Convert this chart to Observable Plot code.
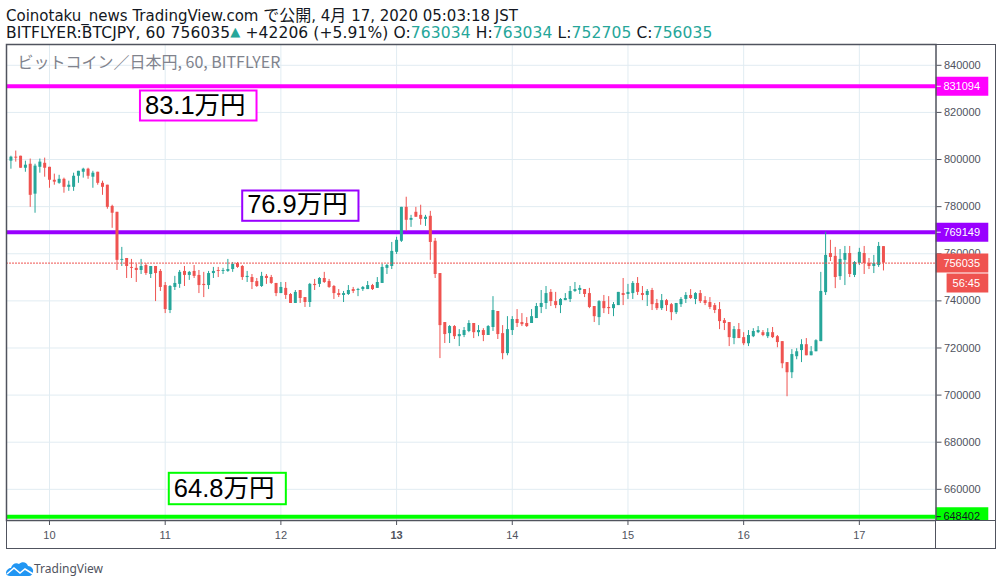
<!DOCTYPE html>
<html lang="ja">
<head>
<meta charset="utf-8">
<script src="https://cdn.jsdelivr.net/npm/d3@7"></script>
<script src="https://cdn.jsdelivr.net/npm/@observablehq/plot@0.6"></script>
<style>
html,body{margin:0;padding:0;background:#fff;width:1002px;height:586px;overflow:hidden}
body{position:relative;font-family:"DejaVu Sans","Noto Sans CJK JP",sans-serif;color:#131722}
#head{height:43px;box-sizing:border-box;padding-left:6px;padding-top:6px;font-size:15px;line-height:17px;white-space:nowrap}
#head .l2{font-size:15.5px;letter-spacing:.1px}
#head .v{color:#26a69a}
#head .j{font-family:"Noto Sans CJK JP",sans-serif;font-size:16px}
#head .t{color:#26a69a;font-size:13px;position:relative;top:-2px}
#outer{position:absolute;left:5.5px;top:43.5px;width:990px;height:505px;border:1.5px solid #50535e;box-sizing:border-box;pointer-events:none}
#cover{position:absolute;left:935px;top:519.5px;width:60px;height:28.5px;background:#fff;border-top:1.5px solid #50535e;border-left:1.5px solid #50535e;box-sizing:border-box}
#logo{position:absolute;left:6px;top:559px;height:18px;display:flex;align-items:center;font:12px "Noto Sans",sans-serif;color:#50535e}
svg{display:block}
</style>
</head>
<body>
<div id="head">
<div>Coinotaku_news TradingView.com <span class="j">で公開</span>, 4<span class="j">月</span> 17, 2020 05:03:18 JST</div>
<div class="l2">BITFLYER:BTCJPY, 60 756035<span class="t">▲</span> +42206 (+5.91%) O:<span class="v">763034</span> H:<span class="v">763034</span> L:<span class="v">752705</span> C:<span class="v">756035</span></div>
</div>
<div id="chart"></div>
<div id="outer"></div>
<div id="cover"></div>
<div id="logo"><svg width="28" height="15" viewBox="0 0 28 15"><path d="M0 12 C0 9 3 7 5 7 C6 3 10 1 13 3 C16 0 21 1 22 5 C25 5 28 8 27 11 C27 13 25 15 23 15 L4 15 C2 15 0 14 0 12Z" fill="#2196f3"/><path d="M1 13 L8 7 L14 12 L19 8 L27 13" fill="none" stroke="#fff" stroke-width="1.6"/></svg><span>TradingView</span></div>
<script>
// Prices in thousand yen, one candle per hour from hour -8 (16:00 on the 9th) to hour 173
const open = [
799.3,801.0,801.4,796.3,798.0,785.3,796.7,798.4,796.7,791.2,
789.9,791.6,788.2,788.2,792.9,794.6,795.9,792.5,794.6,789.9,
789.1,780.1,777.6,757.2,758.0,754.2,753.8,752.9,755.0,751.2,
754.6,752.5,746.5,735.9,745.7,747.0,752.5,750.8,752.5,750.8,
747.0,746.5,751.6,752.9,752.5,752.5,753.3,755.9,754.6,749.9,
749.9,748.2,746.1,750.4,749.9,747.4,743.1,745.3,742.7,738.9,
744.4,741.4,739.3,747.0,747.0,749.5,748.2,746.1,743.1,742.3,
742.7,744.8,744.4,744.8,744.8,746.5,745.3,747.4,753.8,754.6,
760.6,765.3,779.7,774.2,777.6,776.3,774.6,775.9,765.3,751.6,
730.8,726.1,729.1,724.8,725.3,727.0,730.4,726.5,727.4,725.3,
728.7,735.5,726.1,717.6,727.4,732.1,730.8,730.4,730.4,732.5,
737.2,738.9,743.6,739.7,738.0,740.1,740.6,744.0,744.4,744.8,
743.1,737.6,732.9,739.7,737.2,736.7,738.0,743.1,742.7,743.1,
747.4,743.1,742.3,744.4,738.9,736.7,740.1,738.4,735.0,738.4,
740.6,742.3,740.6,743.1,740.1,739.3,738.0,736.3,731.6,730.8,
724.0,727.8,724.4,721.8,724.8,726.5,726.5,724.8,726.5,724.8,
722.7,713.8,709.5,716.3,718.9,721.4,716.7,718.4,722.7,743.5,
760.1,758.9,750.3,757.2,760.1,750.8,755.9,760.1,755.9,754.6,755.0,763.034];
const high = [
801.4,803.6,801.4,799.3,800.2,798.0,800.2,800.6,796.7,793.8,
793.3,792.1,790.8,794.2,795.0,796.3,796.3,795.0,794.6,790.8,
789.1,780.6,777.6,762.7,758.0,757.6,755.5,757.6,755.8,754.6,
754.6,753.3,747.8,746.5,750.4,752.9,754.6,752.5,755.0,752.9,
752.1,752.5,754.2,754.2,753.8,757.6,756.3,756.3,755.0,752.5,
751.2,749.5,752.1,751.2,750.8,747.4,747.8,747.8,743.1,744.4,
744.4,741.4,747.4,749.1,749.9,752.1,749.1,746.5,744.8,744.0,
746.5,745.7,745.3,746.1,748.2,747.0,749.9,755.5,755.5,764.8,
767.0,779.7,784.0,776.3,779.7,780.6,776.3,778.0,766.5,751.6,
730.8,729.5,729.5,727.8,728.7,731.6,730.4,729.5,728.2,729.5,
741.8,735.5,729.5,733.3,733.3,736.3,734.6,732.9,736.3,738.9,
744.4,746.1,744.8,743.6,741.0,743.1,746.1,747.8,746.5,744.8,
745.3,737.6,740.1,742.3,741.8,739.3,743.6,749.5,747.0,748.2,
749.9,746.1,744.8,745.3,740.6,742.7,740.6,738.9,738.9,741.4,
743.5,744.8,743.5,744.4,741.8,741.4,738.9,739.3,732.5,730.8,
729.1,730.4,726.5,727.4,728.2,729.1,727.4,728.2,728.7,725.3,
722.7,713.8,719.3,719.7,723.5,724.0,720.6,723.5,752.1,769.1,
765.7,762.7,761.8,763.1,763.1,756.7,762.3,763.1,758.0,759.3,764.8,763.034];
const low = [
795.9,798.9,796.3,794.6,779.7,777.2,794.2,792.5,787.8,789.1,
789.5,785.7,786.5,786.5,789.9,792.1,791.6,787.8,789.1,784.8,
778.9,770.8,752.9,754.6,749.5,749.5,747.8,751.2,750.8,749.5,
739.7,744.0,734.6,734.6,744.4,745.3,746.1,748.7,749.5,743.1,
741.4,744.8,749.5,749.9,751.2,752.1,752.1,753.8,748.7,747.8,
744.8,745.7,745.7,747.0,747.0,741.8,743.1,740.6,738.9,738.9,
738.9,737.2,737.2,744.4,745.7,747.4,745.3,740.6,741.4,739.3,
742.3,743.1,741.8,744.0,744.8,744.4,745.3,747.4,751.2,753.3,
759.7,764.8,769.5,771.2,775.5,772.1,771.6,757.2,749.5,715.5,
721.9,721.9,723.6,720.6,724.4,726.5,724.0,724.8,722.7,725.3,
727.0,723.6,715.0,716.7,725.3,728.7,729.1,728.7,730.4,732.5,
734.6,736.3,737.6,736.7,734.6,740.1,739.3,743.6,742.7,741.4,
736.7,730.8,729.5,734.6,734.2,733.3,738.0,738.0,740.6,740.6,
742.3,740.1,737.6,735.9,735.9,735.9,735.5,731.6,734.2,737.2,
738.9,740.6,738.4,738.9,738.0,736.3,734.6,727.8,727.4,720.6,
721.4,724.0,721.0,720.6,724.4,726.1,724.8,724.0,724.0,720.1,
711.2,699.3,707.0,715.0,713.8,716.7,716.7,718.4,722.7,742.3,
756.7,745.2,748.7,746.5,749.9,749.9,755.0,751.2,753.3,751.6,754.2,752.705];
const close = [
801.0,800.6,796.3,797.6,784.8,797.2,798.9,796.3,791.2,790.4,
791.6,788.2,789.1,792.9,795.0,795.9,792.9,794.2,789.9,788.2,
779.7,777.2,757.2,757.6,754.6,753.8,752.9,754.6,751.6,754.6,
751.6,745.7,736.3,746.1,747.4,752.1,750.8,752.1,750.4,746.5,
746.5,751.6,752.5,752.5,752.9,753.3,755.5,754.2,749.9,750.4,
747.8,746.1,750.4,749.5,747.4,743.1,745.7,742.3,738.9,743.6,
741.0,739.3,747.0,746.5,749.5,747.8,745.7,743.1,742.3,743.1,
744.4,744.0,744.8,745.7,746.5,744.8,747.8,754.2,755.0,761.0,
765.7,779.7,774.2,775.0,775.5,774.6,775.5,764.8,751.2,729.5,
725.7,729.1,724.8,725.7,727.4,730.4,726.5,727.4,725.3,729.1,
735.9,725.7,717.6,727.8,732.1,730.4,729.9,729.1,733.3,737.6,
738.9,743.1,739.7,738.0,740.6,741.0,744.0,744.8,745.3,742.7,
737.2,733.3,739.7,736.7,736.7,738.4,743.6,742.3,743.6,747.4,
743.6,742.3,744.0,738.4,736.7,740.1,738.0,735.0,738.9,740.6,
742.3,741.0,743.1,739.7,738.9,737.2,735.9,731.2,730.4,724.4,
727.8,724.0,721.8,725.3,727.0,727.4,725.3,726.5,724.4,722.3,
713.3,709.5,717.2,718.4,721.4,716.7,718.4,723.1,744.0,759.3,
758.4,749.9,757.6,760.1,751.2,756.3,760.6,755.9,754.6,755.9,763.1,756.035];

const firstHour = -8;
const dayLabels = [10, 11, 12, 13, 14, 15, 16, 17];
const dayHours = [0, 24, 48, 72, 96, 120, 144, 168];
const boldDayHour = 72;
const priceTicks = [840000, 820000, 800000, 780000, 760000, 740000, 720000, 700000, 680000, 660000];
const levels = [831094, 769149, 648402];
const levelColors = ["#ff00ff", "#9900ff", "#00ff00"];
const levelTextColors = ["#ffffff", "#ffffff", "#131722"];
const lastPrice = 756035;
const countdown = "56:45";
const noteText = ["83.1万円", "76.9万円", "64.8万円"];
const noteTextX = [19.8, 41, 25.8];
const noteTextY = [822800, 780700, 660300];
const noteX1 = [18.87, 40.08, 24.85];
const noteX2 = [43.05, 64.2, 49.13];
const noteY1 = [816355, 773780, 653470];
const noteY2 = [829090, 786640, 666800];

const UP = "#26a69a", DOWN = "#ef5350", INK = "#50535e";
const candles = open.map((o, i) => ({
  hour: firstHour + i, open: o * 1000, high: high[i] * 1000, low: low[i] * 1000, close: close[i] * 1000,
  color: close[i] >= o ? UP : DOWN
}));
const notes = noteText.map((text, i) => ({
  text, x: noteTextX[i], y: noteTextY[i], x1: noteX1[i], x2: noteX2[i], y1: noteY1[i], y2: noteY2[i], color: levelColors[i]
}));
const lv = levels.map((value, i) => ({value, color: levelColors[i], ink: levelTextColors[i]}));
const dayName = h => String(dayLabels[dayHours.indexOf(h)]);

// Right-hand price badges sit past the last hour of the plotted domain
const gutter0 = 183.95, gutterTick = 185, gutter1 = 194.85, gutterLabel = 193.05, countdown0 = 186.2;

const chart = Plot.plot({
  width: 1002, height: 543,
  marginLeft: 6, marginRight: 66.5, marginTop: 1, marginBottom: 66,
  x: {domain: [-8.92, 183.9], axis: null},
  y: {domain: [646768, 848830], axis: null},
  style: {fontFamily: '"Liberation Sans",sans-serif', fontSize: "11px", color: INK, background: "transparent"},
  marks: [
    Plot.gridX(dayHours, {stroke: "#e1ecf2", strokeOpacity: 1}),
    Plot.gridY(priceTicks, {stroke: "#e1ecf2", strokeOpacity: 1}),
    Plot.text(["ビットコイン／日本円, 60, BITFLYER"], {frameAnchor: "top-left", dx: 11, dy: 12, fontSize: 16, fill: "#80838d",
      fontFamily: '"Noto Sans CJK JP","Noto Sans",sans-serif', textAnchor: "start"}),
    Plot.ruleY(lv, {y: "value", stroke: "color", strokeWidth: 4}),
    Plot.ruleX(candles, {x: "hour", y1: "low", y2: "high", stroke: "color", strokeWidth: 1}),
    Plot.ruleX(candles, {x: "hour", y1: "open", y2: "close", stroke: "color", strokeWidth: 3}),
    Plot.ruleY([lastPrice], {stroke: DOWN, strokeWidth: 1, strokeDasharray: "2,1"}),
    Plot.rect(notes, {x1: "x1", x2: "x2", y1: "y1", y2: "y2", fill: "#fff", stroke: "color", strokeWidth: 2}),
    Plot.text(notes, {x: "x", y: "y", text: "text", textAnchor: "start", fontSize: 25.5, fill: "#000",
      fontFamily: '"Liberation Sans","Noto Sans CJK JP",sans-serif'}),
    Plot.axisX({ticks: dayHours.filter(h => h !== boldDayHour), tickFormat: dayName, tickSize: 5, tickPadding: 6, label: null, anchor: "bottom", fontSize: 11}),
    Plot.axisX({ticks: [boldDayHour], tickFormat: dayName, tickSize: 5, tickPadding: 6, label: null, anchor: "bottom", fontSize: 11, fontWeight: "bold"}),
    Plot.axisY({ticks: priceTicks, tickFormat: d => String(d), tickSize: 5, tickPadding: 3, label: null, anchor: "right", fontSize: 11}),
    Plot.ruleY(lv, {y: "value", x1: gutter0, x2: gutter1, stroke: "color", strokeWidth: 19}),
    Plot.ruleY(lv, {y: "value", x1: gutter0, x2: gutterTick, stroke: "ink", strokeWidth: 1}),
    Plot.text(lv, {y: "value", x: gutterLabel, text: d => String(d.value), fill: "ink", textAnchor: "end", fontSize: 11}),
    Plot.ruleY([lastPrice], {x1: gutter0, x2: gutter1, stroke: DOWN, strokeWidth: 19}),
    Plot.text([lastPrice], {y: d => d, x: gutterLabel, text: d => String(d), fill: "#fff", textAnchor: "end", fontSize: 11}),
    Plot.ruleY([lastPrice], {x1: countdown0, x2: gutter1, dy: 20, stroke: DOWN, strokeWidth: 19}),
    Plot.text([countdown], {y: lastPrice, x: gutterLabel, dy: 20, text: d => d, fill: "#fff", textAnchor: "end", fontSize: 11}),
    Plot.frame({stroke: INK, strokeWidth: 1.5})
  ]
});
document.getElementById("chart").appendChild(chart);
</script>
</body>
</html>
